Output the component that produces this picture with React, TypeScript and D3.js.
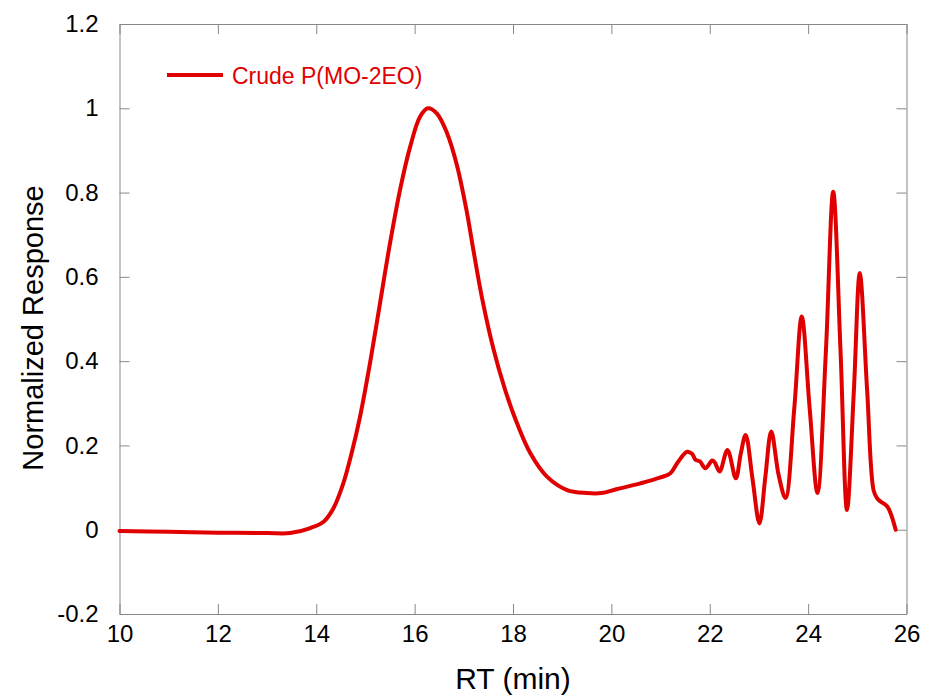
import React, {useEffect, useRef} from 'react'
import * as d3 from 'd3'

// retention time (min) and normalized detector response
const rt = [
    10.0, 11.0, 12.0, 13.0, 13.47, 13.88, 14.15, 14.35, 14.55, 14.72, 14.89, 15.1, 15.3, 15.5,
    15.71, 15.91, 16.11, 16.27, 16.45, 16.66, 16.86, 17.06, 17.2, 17.37, 17.6, 17.84, 18.08,
    18.35, 18.69, 19.1, 19.5, 19.8, 20.1, 20.59, 21.0, 21.2, 21.35, 21.54, 21.64, 21.71, 21.8, 21.91,
    22.05, 22.1, 22.2, 22.36, 22.53, 22.63, 22.73, 22.87, 23.01, 23.13, 23.25, 23.4, 23.54,
    23.72, 23.87, 24.03, 24.19, 24.36, 24.51, 24.66, 24.79, 24.93, 25.05, 25.2, 25.33, 25.4,
    25.47, 25.61, 25.78
];
const response = [
    -0.003, -0.005, -0.007, -0.008, -0.008, 0.004, 0.019, 0.051, 0.11, 0.182, 0.268, 0.4, 0.54, 0.68,
    0.81, 0.909, 0.98, 1.0, 0.988, 0.941, 0.865, 0.755, 0.66, 0.55, 0.43, 0.332, 0.253,
    0.182, 0.126, 0.094, 0.087, 0.087, 0.096, 0.11, 0.124, 0.134, 0.16, 0.185, 0.18, 0.166, 0.162, 0.146,
    0.164, 0.16, 0.138, 0.189, 0.122, 0.18, 0.225, 0.12, 0.015, 0.125, 0.233, 0.13, 0.075,
    0.29, 0.506, 0.29, 0.087, 0.42, 0.802, 0.42, 0.047, 0.33, 0.609, 0.33, 0.094, 0.075,
    0.067, 0.055, 0.0
];
const xTicks = [10, 12, 14, 16, 18, 20, 22, 24, 26];
const yTicks = [-0.2, 0, 0.2, 0.4, 0.6, 0.8, 1, 1.2];
const seriesName = "Crude P(MO-2EO)";

const width = 925;
const height = 700;
const margin = ({top: 24, right: 18.5, bottom: 86, left: 119.5});
const font = "'Liberation Sans', Arial, sans-serif";
const red = "#e00000";
const gray = "#888";

export default function App() {
    const ref = useRef<SVGSVGElement>(null);

    useEffect(() => {
        const x = d3.scaleLinear()
            .domain([10, 26])
            .range([margin.left, width - margin.right]);

        const y = d3.scaleLinear()
            .domain([-0.2, 1.2])
            .range([height - margin.bottom, margin.top]);

        const fmt = (d: number) => String(+d.toFixed(1));

        const style = (g: any) => {
            g.select(".domain").attr("stroke", gray);
            g.selectAll(".tick line").attr("stroke", gray);
            g.selectAll(".tick text")
                .attr("fill", "#000")
                .attr("font-family", font)
                .attr("font-size", 24);
        };

        const svg = d3.select(ref.current);
        svg.selectAll("*").remove();

        svg.append("g")
            .attr("transform", `translate(0,${height - margin.bottom})`)
            .call(d3.axisBottom(x).tickValues(xTicks).tickSizeInner(-10).tickSizeOuter(0).tickPadding(11).tickFormat(fmt as any))
            .call(style);

        svg.append("g")
            .attr("transform", `translate(0,${margin.top})`)
            .call(d3.axisTop(x).tickValues(xTicks).tickSizeInner(-10).tickSizeOuter(0).tickFormat(() => ""))
            .call(style);

        svg.append("g")
            .attr("transform", `translate(${margin.left},0)`)
            .call(d3.axisLeft(y).tickValues(yTicks).tickSizeInner(-10).tickSizeOuter(0).tickPadding(21).tickFormat(fmt as any))
            .call(style);

        svg.append("g")
            .attr("transform", `translate(${width - margin.right},0)`)
            .call(d3.axisRight(y).tickValues(yTicks).tickSizeInner(-10).tickSizeOuter(0).tickFormat(() => ""))
            .call(style);

        const line = d3.line<number>()
            .x((d, i) => x(rt[i]))
            .y(d => y(d))
            .curve(d3.curveCatmullRom.alpha(0.5));

        svg.append("path")
            .attr("fill", "none")
            .attr("stroke", red)
            .attr("stroke-width", 4)
            .attr("stroke-linejoin", "round")
            .attr("stroke-linecap", "round")
            .attr("d", line(response));

        // legend
        svg.append("line")
            .attr("x1", 167).attr("x2", 223)
            .attr("y1", 75).attr("y2", 75)
            .attr("stroke", red)
            .attr("stroke-width", 4);
        svg.append("text")
            .attr("x", 232).attr("y", 84)
            .attr("fill", red)
            .attr("font-family", font)
            .attr("font-size", 23)
            .text(seriesName);

        // axis titles
        svg.append("text")
            .attr("x", (margin.left + width - margin.right) / 2)
            .attr("y", 689)
            .attr("text-anchor", "middle")
            .attr("font-family", font)
            .attr("font-size", 30)
            .text("RT (min)");

        svg.append("text")
            .attr("transform", `translate(43,328) rotate(-90)`)
            .attr("text-anchor", "middle")
            .attr("font-family", font)
            .attr("font-size", 29)
            .text("Normalized Response");
    }, []);

    return <svg ref={ref} width={width} height={height}
                style={{position: "absolute", left: 0, top: 0, background: "#fff"}}/>;
}
